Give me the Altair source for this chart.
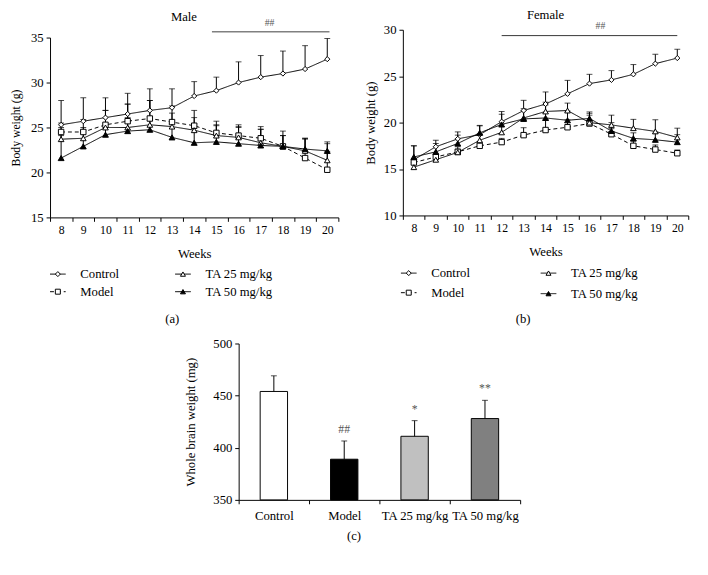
import altair as alt
import pandas as pd

FONT = "Liberation Serif"

weeks = list(range(8, 21))
groups = ["Control", "Model", "TA 25 mg/kg", "TA 50 mg/kg"]

# ---- Male body weight (g): mean and upper error ----
male_control = [25.3, 25.7, 26.1, 26.5, 26.9, 27.2, 28.5, 29.1, 30.0, 30.6, 31.0, 31.5, 32.6]
male_control_err = [2.7, 2.6, 2.2, 2.3, 2.4, 2.1, 1.6, 1.5, 2.3, 2.4, 2.5, 2.6, 2.3]
male_model = [24.5, 24.5, 25.3, 25.7, 26.0, 25.6, 25.2, 24.4, 24.1, 23.8, 22.9, 21.6, 20.3]
male_model_err = [1.0, 1.4, 1.6, 1.9, 2.0, 1.8, 1.7, 1.3, 1.2, 1.3, 1.7, 2.2, 2.9]
male_ta25 = [23.7, 23.8, 25.0, 25.0, 25.3, 25.1, 24.7, 24.1, 23.9, 23.3, 22.9, 22.4, 21.35]
male_ta25_err = [1.3, 1.2, 1.9, 2.6, 2.7, 1.5, 1.4, 1.2, 1.1, 1.5, 1.2, 1.3, 1.0]
male_ta50 = [21.6, 22.9, 24.2, 24.6, 24.75, 23.9, 23.3, 23.4, 23.2, 23.0, 22.9, 22.6, 22.4]
male_ta50_err = [2.5, 1.8, 1.2, 1.5, 1.0, 1.5, 1.6, 1.8, 1.9, 1.8, 1.2, 1.2, 1.0]

# ---- Female body weight (g): mean and upper error ----
female_control = [16.0, 17.4, 18.25, 18.7, 20.1, 21.3, 22.0, 23.1, 24.2, 24.6, 25.2, 26.35, 26.95]
female_control_err = [1.5, 0.7, 0.75, 0.95, 1.1, 1.1, 1.3, 1.45, 1.0, 1.0, 1.05, 1.0, 0.95]
female_model = [15.7, 16.3, 16.85, 17.5, 17.9, 18.65, 19.2, 19.5, 19.9, 18.75, 17.5, 17.1, 16.7]
female_model_err = [0.4, 0.3, 0.3, 0.4, 0.4, 0.8, 1.1, 0.8, 0.9, 0.6, 0.5, 0.5, 0.35]
female_ta25 = [15.2, 16.0, 16.8, 18.1, 18.95, 20.5, 21.2, 21.3, 20.0, 19.75, 19.4, 19.05, 18.4]
female_ta25_err = [0.5, 0.6, 0.6, 0.6, 0.9, 1.0, 1.0, 0.8, 1.0, 1.05, 0.95, 1.25, 1.0]
female_ta50 = [16.3, 16.85, 17.75, 18.9, 19.8, 20.4, 20.5, 20.25, 20.45, 19.1, 18.3, 18.15, 17.9]
female_ta50_err = [1.2, 0.9, 0.9, 0.8, 1.1, 0.9, 1.4, 1.0, 0.7, 0.9, 0.6, 0.7, 0.8]

# significance bars (start week, end week, level, label, label week)
male_sig = [14.8, 20.1, 35.65, "##", 17.4]
female_sig = [12.0, 20.0, 29.37, "##", 16.5]

# ---- Whole brain weight (mg) ----
brain_mean = [454, 389, 411, 428]
brain_err = [15, 17.5, 15, 17.5]
brain_sig = ["", "##", "*", "**"]

shape_range = ["diamond", "square", "triangle-up", "triangle-up"]
fill_range = ["white", "white", "white", "black"]
size_range = [28, 36, 32, 32]
dash_range = [[1, 0], [4, 3], [1, 0], [1, 0]]
bar_fill = ["white", "black", "#c0c0c0", "#808080"]


def long_df(series):
    rows = []
    for g, (m, e) in zip(groups, series):
        for w, mv, ev in zip(weeks, m, e):
            rows.append({"week": w, "group": g, "mean": mv, "top": round(mv + ev, 3)})
    return pd.DataFrame(rows)


def xenc(field, width):
    half = width / 13 / 2
    return alt.X(
        f"{field}:Q",
        scale=alt.Scale(domain=[7.5, 20.5], nice=False, zero=False),
        axis=alt.Axis(
            values=[w - 0.5 for w in weeks] + [20.5],
            labelExpr="datum.value < 20 ? format(datum.value + 0.5, 'd') : ''",
            labelOffset=half, labelFlush=False, labelOverlap=False,
            tickSize=4, labelPadding=3, labelFontSize=12,
            titlePadding=13, titleFontSize=13, grid=False,
        ),
        title="Weeks",
    )


def yenc(field, domain, yrange, tfs, tpad):
    vals = list(range(domain[0], domain[1] + 1, 5))
    return alt.Y(
        f"{field}:Q",
        scale=alt.Scale(domain=domain, range=yrange, nice=False, zero=False),
        axis=alt.Axis(values=vals, tickSize=4, labelPadding=3, labelFontSize=13,
                      titleFontSize=tfs, titlePadding=tpad, grid=False),
        title="Body weight (g)",
    )


def text_layer(t, x, y, size=13, color="black"):
    return alt.Chart(pd.DataFrame({"t": [t]})).mark_text(
        fontSize=size, font=FONT, color=color, baseline="middle").encode(
        x=alt.value(x), y=alt.value(y), text="t:N")


def legend_layers(items):
    layers = []
    for label, x0, y, shape, fill, dash in items:
        base = alt.Chart(pd.DataFrame({"label": [label]}))
        layers.append(
            base.mark_rule(color="black", strokeWidth=1, strokeDash=dash).encode(
                x=alt.value(x0), x2=alt.value(x0 + 16), y=alt.value(y)))
        layers.append(
            base.mark_point(shape=shape, filled=True, fill=fill, stroke="black",
                            strokeWidth=1, size=26, opacity=1).encode(
                x=alt.value(x0 + 8), y=alt.value(y)))
        layers.append(
            base.mark_text(align="left", baseline="middle", fontSize=13, font=FONT,
                           color="black").encode(
                x=alt.value(x0 + 31), y=alt.value(y), text="label:N"))
    return layers


def panel(df, width, height, ydomain, yrange, title, sig, sigcolor, sigw, sigdy,
          leg, letter, tfs, tpad):
    X = xenc("week", width)

    def Yf(field):
        return yenc(field, ydomain, yrange, tfs, tpad)

    base = alt.Chart(df)
    lines = base.mark_line(color="black", strokeWidth=1).encode(
        x=X, y=Yf("mean"), detail="group:N",
        strokeDash=alt.StrokeDash("group:N", scale=alt.Scale(domain=groups, range=dash_range),
                                  legend=None))
    err = base.mark_rule(color="black", strokeWidth=1).encode(
        x=X, y=Yf("mean"), y2="top:Q")
    caps = base.mark_tick(orient="horizontal", color="black", size=6, thickness=1).encode(
        x=X, y=Yf("top"))
    pts = base.mark_point(filled=True, stroke="black", strokeWidth=1, opacity=1).encode(
        x=X, y=Yf("mean"),
        shape=alt.Shape("group:N", scale=alt.Scale(domain=groups, range=shape_range), legend=None),
        fill=alt.Fill("group:N", scale=alt.Scale(domain=groups, range=fill_range), legend=None),
        size=alt.Size("group:N", scale=alt.Scale(domain=groups, range=size_range), legend=None),
    )
    sdf = pd.DataFrame({"x1": [sig[0]], "x2": [sig[1]], "y": [sig[2]], "t": [sig[3]], "tx": [sig[4]]})
    sline = alt.Chart(sdf).mark_rule(color=sigcolor, strokeWidth=sigw).encode(
        x=xenc("x1", width), x2="x2:Q", y=Yf("y"))
    stext = alt.Chart(sdf).mark_text(baseline="bottom", dy=sigdy, fontSize=10, font=FONT,
                                     color="#555").encode(
        x=xenc("tx", width), y=Yf("y"), text="t:N")
    lx, ly, ltext = letter
    return alt.layer(lines, err, caps, pts, sline, stext, *legend_layers(leg),
                     text_layer(title[0], title[1], title[2]),
                     text_layer(ltext, lx, ly)).properties(width=width, height=height)


male_df = long_df([(male_control, male_control_err), (male_model, male_model_err),
                   (male_ta25, male_ta25_err), (male_ta50, male_ta50_err)])
female_df = long_df([(female_control, female_control_err), (female_model, female_model_err),
                     (female_ta25, female_ta25_err), (female_ta50, female_ta50_err)])

male_leg = [
    ("Control", 0, 250, "diamond", "white", [1, 0]),
    ("Model", 0, 268, "square", "white", [4, 3]),
    ("TA 25 mg/kg", 128, 250, "triangle-up", "white", [1, 0]),
    ("TA 50 mg/kg", 128, 268, "triangle-up", "black", [1, 0]),
]
female_leg = [
    ("Control", -2, 249, "diamond", "white", [1, 0]),
    ("Model", -2, 269, "square", "white", [4, 3]),
    ("TA 25 mg/kg", 141, 249, "triangle-up", "white", [1, 0]),
    ("TA 50 mg/kg", 141, 270, "triangle-up", "black", [1, 0]),
]

# male panel spans 192 px; its 15-35 scale occupies the lower 184 px
male = panel(male_df, 295, 192, [15, 35], [192, 8], ("Male", 137, -13), male_sig,
             "#808080", 1.5, -4, male_leg, (125, 296, "(a)"), 12, 8)
female = panel(female_df, 292, 190, [10, 30], [190, 0], ("Female", 146, -15), female_sig,
               "#333333", 1, -5, female_leg, (123, 296, "(b)"), 13, 6)

# ---- bar chart ----
bar_df = pd.DataFrame({
    "group": groups, "mean": brain_mean,
    "top": [m + e for m, e in zip(brain_mean, brain_err)],
    "base": [350] * 4, "sig": brain_sig,
})
BX = alt.X("group:N", sort=groups,
           scale=alt.Scale(type="band", paddingInner=0, paddingOuter=0),
           axis=alt.Axis(tickBand="extent", labelAngle=0, tickSize=4, labelPadding=6,
                         labelFontSize=13, grid=False), title=None)


def benc(field):
    return alt.Y(f"{field}:Q", scale=alt.Scale(domain=[350, 500], nice=False, zero=False),
                 axis=alt.Axis(values=[350, 400, 450, 500], tickSize=4, labelPadding=3,
                               labelFontSize=13, titleFontSize=13, titlePadding=16, grid=False),
                 title="Whole brain weight (mg)")


bbase = alt.Chart(bar_df)
bars = bbase.mark_bar(size=28, stroke="black", strokeWidth=1).encode(
    x=BX, y=benc("mean"), y2="base:Q",
    color=alt.Color("group:N", scale=alt.Scale(domain=groups, range=bar_fill), legend=None))
berr = bbase.mark_rule(color="black", strokeWidth=1).encode(x=BX, y=benc("mean"), y2="top:Q")
bcap = bbase.mark_tick(orient="horizontal", color="black", size=6, thickness=1).encode(
    x=BX, y=benc("top"))
bsig = bbase.mark_text(baseline="bottom", dy=-5, fontSize=12, font=FONT, color="#555").encode(
    x=BX, y=benc("top"), text="sig:N")
bar = alt.layer(bars, berr, bcap, bsig, text_layer("(c)", 118, 197)).properties(
    width=288, height=160)

spacer = alt.Chart(pd.DataFrame({"a": [0]})).mark_point(opacity=0).encode(
    x=alt.value(0), y=alt.value(0)).properties(width=137, height=10)

chart = alt.vconcat(
    alt.hconcat(male, female, spacing=15),
    alt.hconcat(spacer, bar, spacing=0),
    spacing=12,
).properties(
    padding={"left": 2, "top": -5, "right": 0, "bottom": 0}
).configure_view(stroke=None).configure_axis(
    domainColor="black", tickColor="black", labelColor="black", titleColor="black",
    labelFont=FONT, titleFont=FONT, titleFontWeight="normal",
).configure_text(font=FONT)

chart.save("out.html", embed_options={"renderer": "svg", "actions": False})
